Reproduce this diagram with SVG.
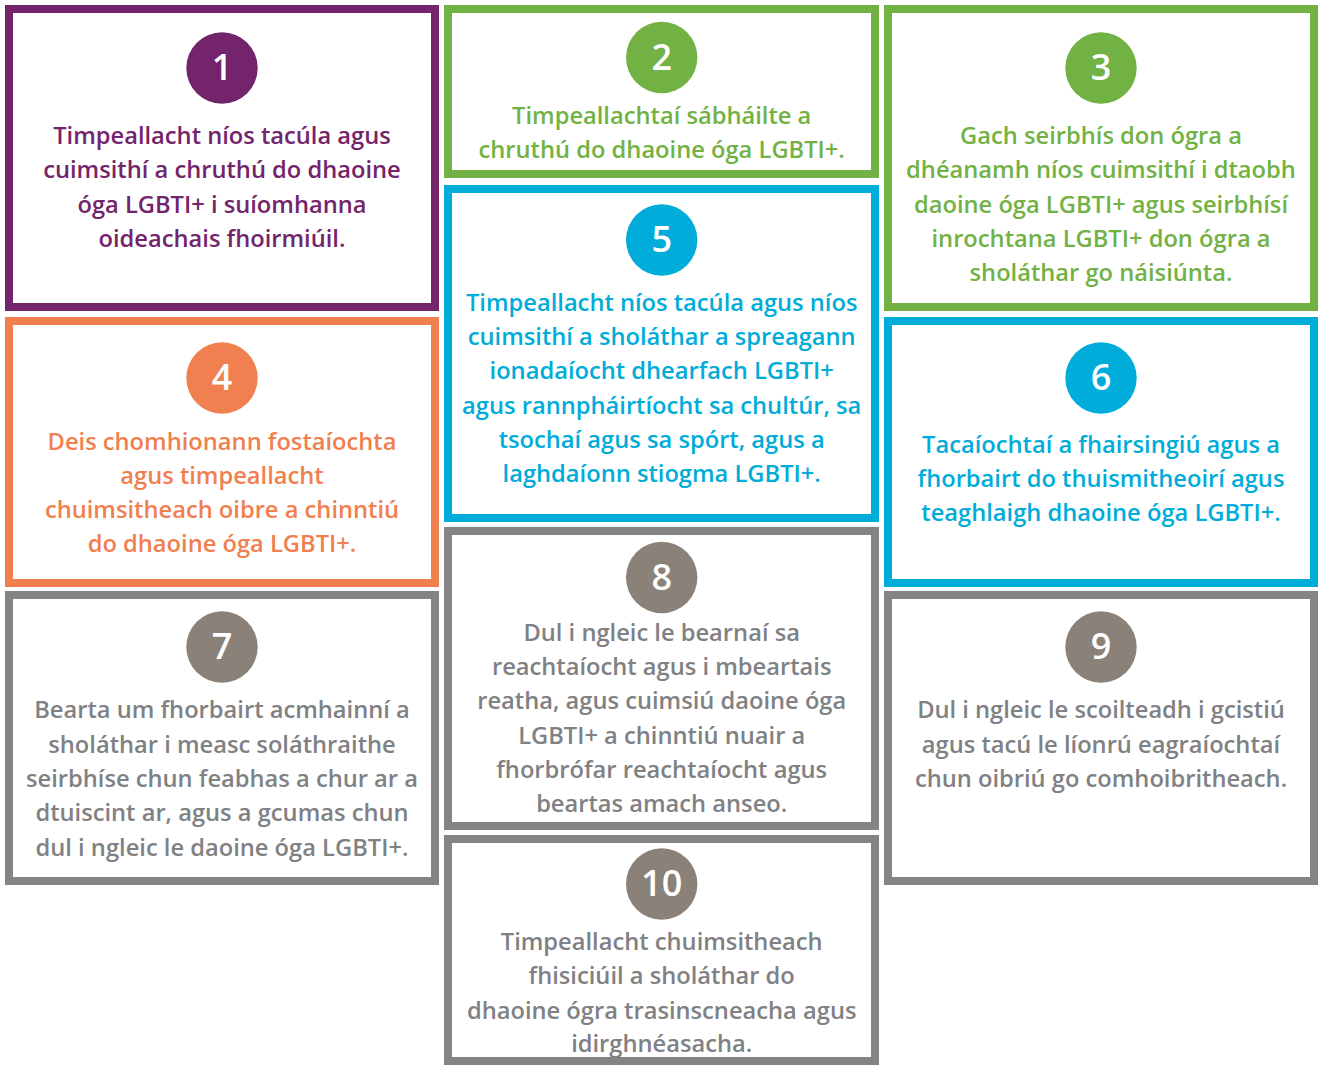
<svg xmlns="http://www.w3.org/2000/svg" width="1319" height="1066" viewBox="0 0 1319 1066">
<style>
.box{fill:#fff;stroke-width:8}
.t{font-family:"Open Sans","Liberation Sans",sans-serif;font-weight:600;font-size:23.7px;text-anchor:middle}
.n{font-family:"Open Sans","Liberation Sans",sans-serif;font-weight:600;font-size:36px;text-anchor:middle;fill:#fff}
.pu{stroke:#74246a}.puf{fill:#74246a}
.gr{stroke:#72b244}.grf{fill:#72b244}
.bl{stroke:#00acd9}.blf{fill:#00acd9}
.or{stroke:#f0804f}.orf{fill:#f0804f}
.gy{stroke:#848487}.gyt{fill:#808184}.gyc{fill:#8a8178}
</style>
<rect width="1319" height="1066" fill="#fff"/>
<g id="node1">
<rect class="box pu" x="9" y="9" width="426" height="298"/>
<circle class="puf" cx="222" cy="68" r="35.7"/>
<text class="n" x="222" y="80">1</text>
<text class="t puf" x="222"><tspan x="222" y="144">Timpeallacht níos tacúla agus</tspan><tspan x="222" y="178.3">cuimsithí a chruthú do dhaoine</tspan><tspan x="222" y="212.7">óga LGBTI+ i suíomhanna</tspan><tspan x="222" y="247">oideachais fhoirmiúil.</tspan></text>
</g>
<g id="node2">
<rect class="box gr" x="448" y="9" width="427" height="165"/>
<circle class="grf" cx="661.7" cy="57.5" r="35.7"/>
<text class="n" x="661.7" y="69.5">2</text>
<text class="t grf"><tspan x="661.7" y="123.5">Timpeallachtaí sábháilte a</tspan><tspan x="661.7" y="157.5">chruthú do dhaoine óga LGBTI+.</tspan></text>
</g>
<g id="node3">
<rect class="box gr" x="888" y="9" width="426" height="298"/>
<circle class="grf" cx="1101" cy="68" r="35.7"/>
<text class="n" x="1101" y="80">3</text>
<text class="t grf"><tspan x="1101" y="144">Gach seirbhís don ógra a</tspan><tspan x="1101" y="178.3">dhéanamh níos cuimsithí i dtaobh</tspan><tspan x="1101" y="212.7">daoine óga LGBTI+ agus seirbhísí</tspan><tspan x="1101" y="247">inrochtana LGBTI+ don ógra a</tspan><tspan x="1101" y="281.3">sholáthar go náisiúnta.</tspan></text>
</g>
<g id="node4">
<rect class="box or" x="9" y="321" width="426" height="262"/>
<circle class="orf" cx="222" cy="378" r="35.7"/>
<text class="n" x="222" y="390">4</text>
<text class="t orf"><tspan x="222" y="449.5">Deis chomhionann fostaíochta</tspan><tspan x="222" y="483.8">agus timpeallacht</tspan><tspan x="222" y="518.1">chuimsitheach oibre a chinntiú</tspan><tspan x="222" y="552.4">do dhaoine óga LGBTI+.</tspan></text>
</g>
<g id="node5">
<rect class="box bl" x="448" y="189" width="427" height="329"/>
<circle class="blf" cx="661.7" cy="240" r="35.7"/>
<text class="n" x="661.7" y="252">5</text>
<text class="t blf"><tspan x="661.7" y="310.7">Timpeallacht níos tacúla agus níos</tspan><tspan x="661.7" y="345">cuimsithí a sholáthar a spreagann</tspan><tspan x="661.7" y="379.3">ionadaíocht dhearfach LGBTI+</tspan><tspan x="661.7" y="413.6">agus rannpháirtíocht sa chultúr, sa</tspan><tspan x="661.7" y="448">tsochaí agus sa spórt, agus a</tspan><tspan x="661.7" y="482">laghdaíonn stiogma LGBTI+.</tspan></text>
</g>
<g id="node6">
<rect class="box bl" x="888" y="321" width="426" height="262"/>
<circle class="blf" cx="1101" cy="378" r="35.7"/>
<text class="n" x="1101" y="390">6</text>
<text class="t blf"><tspan x="1101" y="453">Tacaíochtaí a fhairsingiú agus a</tspan><tspan x="1101" y="487">fhorbairt do thuismitheoirí agus</tspan><tspan x="1101" y="521">teaghlaigh dhaoine óga LGBTI+.</tspan></text>
</g>
<g id="node7">
<rect class="box gy" x="9" y="595" width="426" height="286"/>
<circle class="gyc" cx="222" cy="647" r="35.7"/>
<text class="n" x="222" y="659">7</text>
<text class="t gyt"><tspan x="222" y="718.3">Bearta um fhorbairt acmhainní a</tspan><tspan x="222" y="752.7">sholáthar i measc soláthraithe</tspan><tspan x="222" y="787">seirbhíse chun feabhas a chur ar a</tspan><tspan x="222" y="821.4">dtuiscint ar, agus a gcumas chun</tspan><tspan x="222" y="855.7">dul i ngleic le daoine óga LGBTI+.</tspan></text>
</g>
<g id="node8">
<rect class="box gy" x="448" y="531" width="427" height="295"/>
<circle class="gyc" cx="661.7" cy="577.5" r="35.7"/>
<text class="n" x="661.7" y="589.5">8</text>
<text class="t gyt"><tspan x="661.7" y="640.7">Dul i ngleic le bearnaí sa</tspan><tspan x="661.7" y="675">reachtaíocht agus i mbeartais</tspan><tspan x="661.7" y="709.3">reatha, agus cuimsiú daoine óga</tspan><tspan x="661.7" y="743.6">LGBTI+ a chinntiú nuair a</tspan><tspan x="661.7" y="778">fhorbrófar reachtaíocht agus</tspan><tspan x="661.7" y="812.3">beartas amach anseo.</tspan></text>
</g>
<g id="node9">
<rect class="box gy" x="888" y="595" width="426" height="286"/>
<circle class="gyc" cx="1101" cy="647" r="35.7"/>
<text class="n" x="1101" y="659">9</text>
<text class="t gyt"><tspan x="1101" y="718.3">Dul i ngleic le scoilteadh i gcistiú</tspan><tspan x="1101" y="752.7">agus tacú le líonrú eagraíochtaí</tspan><tspan x="1101" y="787">chun oibriú go comhoibritheach.</tspan></text>
</g>
<g id="node10">
<rect class="box gy" x="448" y="839" width="427" height="222"/>
<circle class="gyc" cx="661.7" cy="884" r="35.7"/>
<text class="n" x="661.7" y="896">10</text>
<text class="t gyt"><tspan x="661.7" y="950">Timpeallacht chuimsitheach</tspan><tspan x="661.7" y="984.3">fhisiciúil a sholáthar do</tspan><tspan x="661.7" y="1018.6">dhaoine ógra trasinscneacha agus</tspan><tspan x="661.7" y="1052">idirghnéasacha.</tspan></text>
</g>
<g id="connectors"></g>
</svg>
